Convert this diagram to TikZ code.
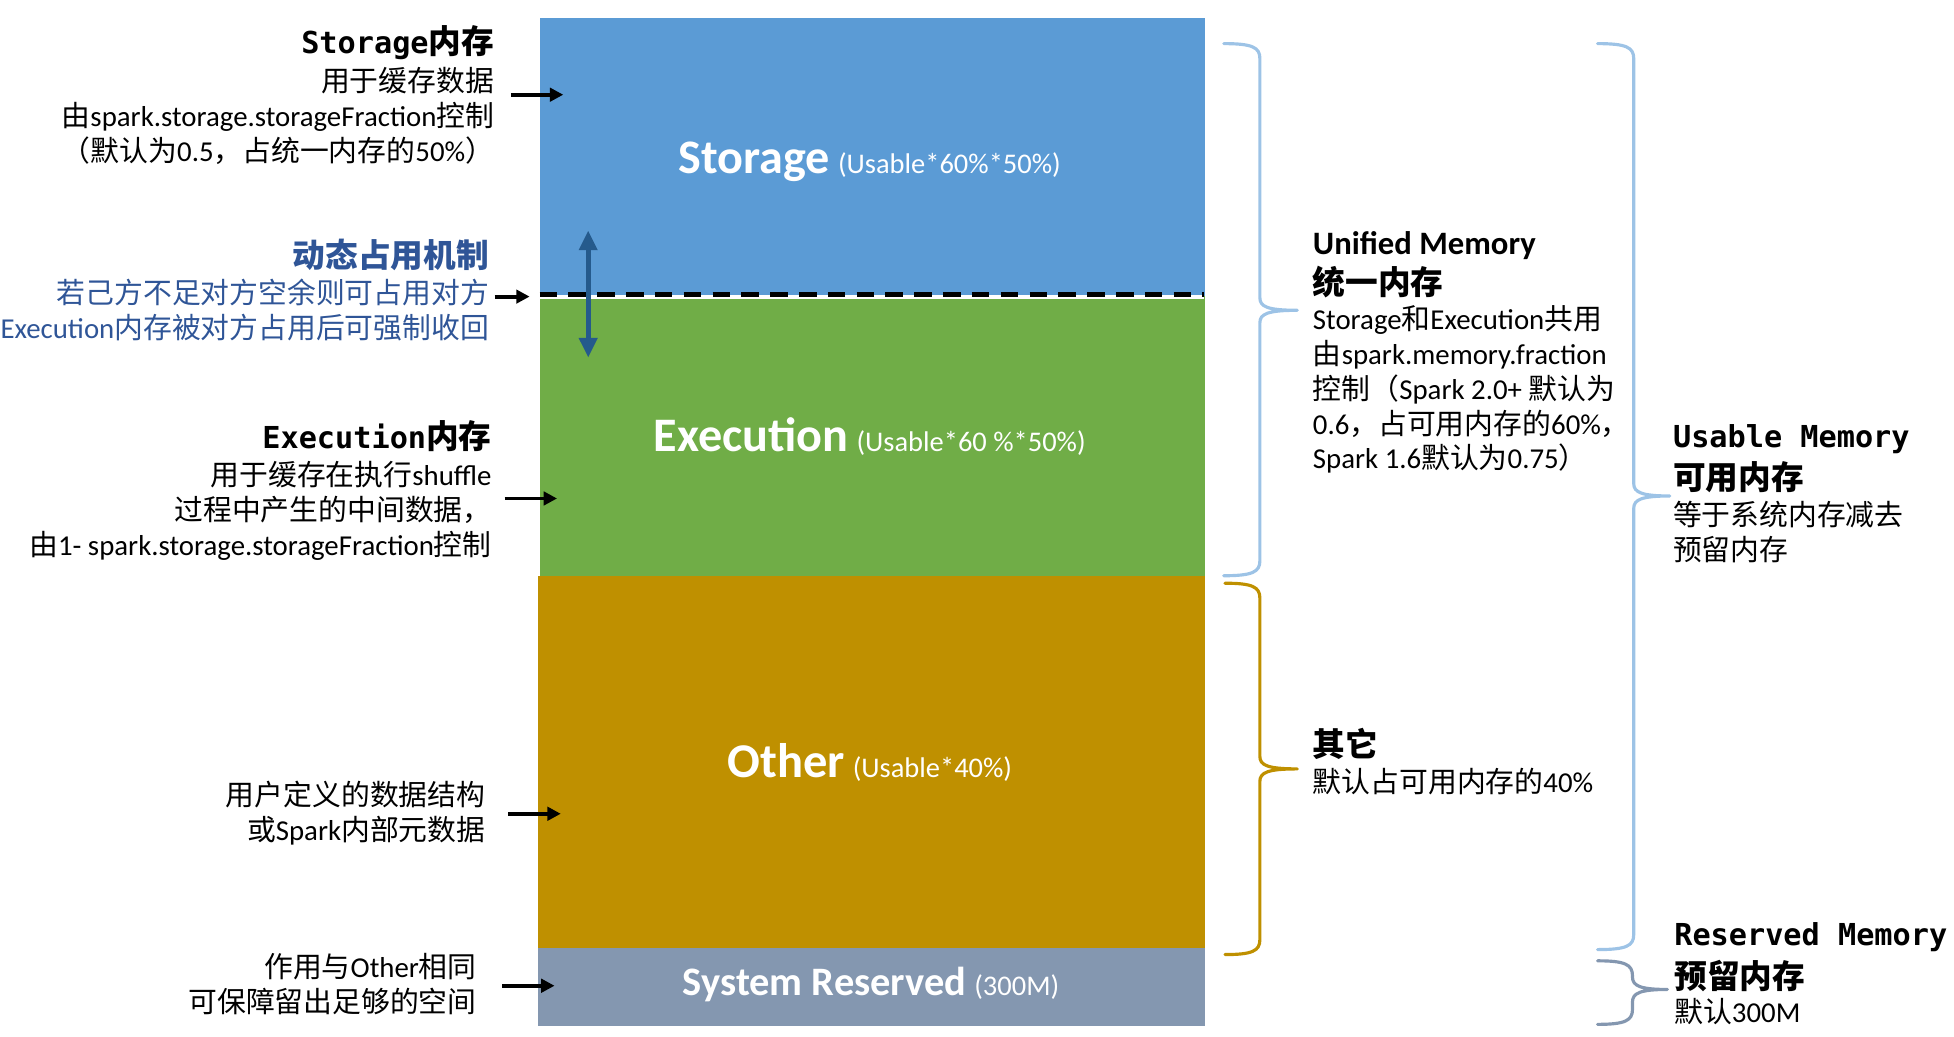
\documentclass[tikz,border=0pt]{standalone}
\usepackage{fontspec}
\setmainfont{Carlito}
\newfontfamily\cj{Noto Sans CJK SC}
\newfontfamily\mono{DejaVu Sans Mono}
\usetikzlibrary{arrows.meta}
\definecolor{storc}{HTML}{5B9BD5}
\definecolor{execc}{HTML}{70AD47}
\definecolor{othc}{HTML}{BF9000}
\definecolor{sysc}{HTML}{8497B0}
\definecolor{tblue}{HTML}{2F5597}
\definecolor{darr}{HTML}{255A8C}
\definecolor{lbrace}{HTML}{9DC3E6}
\newcommand\zh[1]{{\cj #1}}
\newcommand\hmono[1]{{\fontsize{8.6}{10}\selectfont\mono\bfseries #1}}
\newcommand\hzh[1]{{\fontsize{9.3}{11}\selectfont\cj\bfseries #1}}
\newcommand\hlat[1]{{\fontsize{9.3}{11}\selectfont\bfseries #1}}
\newcommand\bodyf{\fontsize{8.2}{10}\selectfont}
\newcommand\mybrace[7]{%
  \draw[#1] (#2,#5) .. controls (#3-6,#5) and (#3,#5+3) .. (#3,#5+12)
    -- (#3,#6-10) .. controls (#3,#6-3) and (#3+6,#6) .. (#4,#6)
    .. controls (#3+6,#6) and (#3,#6+3) .. (#3,#6+10)
    -- (#3,#7-12) .. controls (#3,#7-3) and (#3-6,#7) .. (#2,#7);}
\tikzset{
  lt/.style={anchor=base east, inner sep=0pt, font=\bodyf},
  rt/.style={anchor=base west, inner sep=0pt, font=\bodyf},
  memblock/.style={anchor=north west, inner sep=0pt, draw=none},
  boxlabel/.style={anchor=base, inner sep=0pt, text=white},
  ar/.style={-{Triangle[length=3.8pt,width=3.8pt]}, line width=1.1pt, black},
  dar/.style={{Triangle[length=5.6pt,width=5pt]}-{Triangle[length=5.6pt,width=5pt]}, line width=1.4pt, darr},
  brc/.style={line width=0.9pt, line join=round, line cap=round}
}
\begin{document}
\begin{tikzpicture}[x=0.12462mm, y=-0.12462mm]
\useasboundingbox (0,0) rectangle (1568,832);
% memory blocks
\node[memblock, fill=storc, minimum width=66.42mm, minimum height=27.79mm] (storage) at (433,14) {};
\node[memblock, fill=execc, minimum width=66.42mm, minimum height=28.04mm] (execution) at (433,237) {};
\node[memblock, fill=othc, minimum width=66.67mm, minimum height=37.14mm] (other) at (431,462) {};
\node[memblock, fill=sysc, minimum width=66.67mm, minimum height=7.79mm] (sysres) at (431,760) {};
% block labels
\node[boxlabel] (lstor) at (698,139.5) {{\fontsize{13.7}{14}\selectfont\bfseries Storage} {\fontsize{8.1}{9}\selectfont (Usable*60\%*50\%)}};
\node[boxlabel] (lexec) at (698,362.5) {{\fontsize{13.7}{14}\selectfont\bfseries Execution} {\fontsize{8.1}{9}\selectfont (Usable*60 \%*50\%)}};
\node[boxlabel] (loth) at (698,624) {{\fontsize{13.8}{14}\selectfont\bfseries Other} {\fontsize{8.1}{9}\selectfont (Usable*40\%)}};
\node[boxlabel] (lsys) at (699,798.5) {{\fontsize{11.5}{12}\selectfont\bfseries System Reserved} {\fontsize{8.1}{9}\selectfont (300M)}};
% dashed boundary
\coordinate (dl) at (433,238.5); \coordinate (dr) at (966,238.5);
\draw[white, line width=1.2pt] (dl) -- (dr);
\coordinate (dl2) at (433,236.5); \coordinate (dr2) at (966,236.5);
\draw[black, line width=1.4pt, dash pattern=on 5pt off 3.2pt] (dl2) -- (dr2);
\coordinate (dt) at (472,185); \coordinate (db) at (472,287);
\draw[dar] (dt) -- (db);
% left texts
\node[lt] (sh1) at (397,43) {\hmono{Storage}\hzh{内存}};
\node[lt] (s2) at (397,73.6) {\zh{用于缓存数据}};
\node[lt] (s3) at (397,101.6) {\zh{由}spark.storage.storageFraction\zh{控制}};
\node[lt] (s4) at (397,129.6) {\zh{（默认为}0.5\zh{，占统一内存的}50\%\zh{）}};
\node[lt, text=tblue] (d1) at (393,215) {\hzh{动态占用机制}};
\node[lt, text=tblue] (d2) at (393,243.8) {\zh{若己方不足对方空余则可占用对方}};
\node[lt, text=tblue] (d3) at (393,271.8) {Execution\zh{内存被对方占用后可强制收回}};
\node[lt] (e1) at (395,360) {\hmono{Execution}\hzh{内存}};
\node[lt] (e2) at (395,389.6) {\zh{用于缓存在执行}shuffle};
\node[lt] (e3) at (395,417.6) {\zh{过程中产生的中间数据，}};
\node[lt] (e4) at (395,445.6) {\zh{由}1- spark.storage.storageFraction\zh{控制}};
\node[lt] (o1) at (390,646.6) {\zh{用户定义的数据结构}};
\node[lt] (o2) at (390,674.6) {\zh{或}Spark\zh{内部元数据}};
\node[lt] (r1) at (383,784.6) {\zh{作用与}Other\zh{相同}};
\node[lt] (r2) at (383,812.6) {\zh{可保障留出足够的空间}};
% arrows
\coordinate (a1s) at (410,76); \coordinate (a1e) at (452,76);
\draw[ar] (a1s) -- (a1e);
\coordinate (a2s) at (397,238); \coordinate (a2e) at (425,238);
\draw[ar] (a2s) -- (a2e);
\coordinate (a3s) at (405,400); \coordinate (a3e) at (447,400);
\draw[ar] (a3s) -- (a3e);
\coordinate (a4s) at (408,653); \coordinate (a4e) at (450,653);
\draw[ar] (a4s) -- (a4e);
\coordinate (a5s) at (403,791); \coordinate (a5e) at (445,791);
\draw[ar] (a5s) -- (a5e);
% braces
\mybrace{brc, lbrace}{982}{1011}{1041}{35}{249}{462}
\mybrace{brc, othc}{983}{1011}{1041}{468}{617}{766}
\mybrace{brc, lbrace}{1282}{1311}{1340}{35}{398}{762}
\mybrace{brc, sysc}{1282}{1310}{1338}{771}{794}{822}
% right texts
\node[rt] (u1) at (1053,204) {\hlat{Unified Memory}};
\node[rt] (u2) at (1053,236) {\hzh{统一内存}};
\node[rt] (u3) at (1053,264.6) {Storage\zh{和}Execution\zh{共用}};
\node[rt] (u4) at (1053,292.6) {\zh{由}spark.memory.fraction};
\node[rt] (u5) at (1053,320.6) {\zh{控制（}Spark 2.0+ \zh{默认为}};
\node[rt] (u6) at (1053,348.6) {0.6\zh{，占可用内存的}60\%\zh{，}};
\node[rt] (u7) at (1053,375.6) {Spark 1.6\zh{默认为}0.75\zh{）}};
\node[rt] (q1) at (1053,607) {\hzh{其它}};
\node[rt] (q2) at (1053,635.6) {\zh{默认占可用内存的}40\%};
\node[rt] (m1) at (1342,359) {\hmono{Usable Memory}};
\node[rt] (m2) at (1342,393) {\hzh{可用内存}};
\node[rt] (m3) at (1342,421.6) {\zh{等于系统内存减去}};
\node[rt] (m4) at (1342,449.6) {\zh{预留内存}};
\node[rt] (v1) at (1343,759) {\hmono{Reserved Memory}};
\node[rt] (v2) at (1343,793) {\hzh{预留内存}};
\node[rt] (v3) at (1343,820.6) {\zh{默认}300M};
\end{tikzpicture}
\end{document}
